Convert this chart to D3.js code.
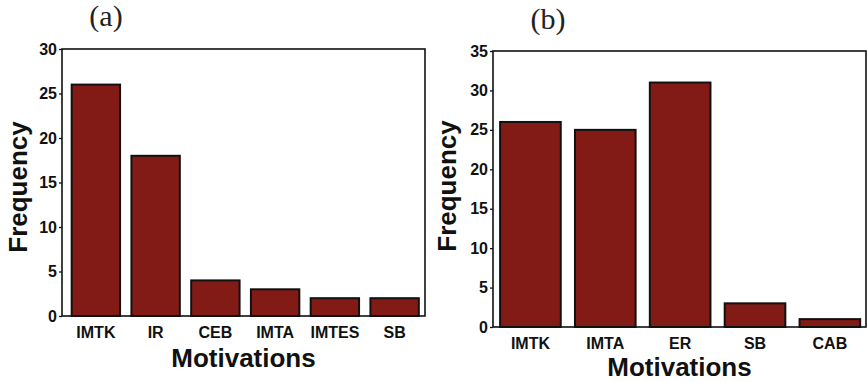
<!DOCTYPE html>
<html>
<head>
<meta charset="utf-8">
<script src="https://cdn.jsdelivr.net/npm/d3@7"></script>
<style>
  body { margin: 0; background: #fff; }
  svg { display: block; }
</style>
</head>
<body>
<div id="chart"></div>
<script>
// panel (a)
var catsA = ["IMTK", "IR", "CEB", "IMTA", "IMTES", "SB"];
var valsA = [26, 18, 4, 3, 2, 2];
var ticksA = [0, 5, 10, 15, 20, 25, 30];

// panel (b)
var catsB = ["IMTK", "IMTA", "ER", "SB", "CAB"];
var valsB = [26, 25, 31, 3, 1];
var ticksB = [0, 5, 10, 15, 20, 25, 30, 35];

var barColor = "#821b16";

var svg = d3.select("#chart")
    .append("svg")
    .attr("width", 867)
    .attr("height", 382);

svg.append("rect")
    .attr("width", 867)
    .attr("height", 382)
    .attr("fill", "#fff");

/**
 * Draws one framed bar panel
 */
function drawPanel(p) {
    var g = svg.append("g");

    var x = d3.scaleBand()
        .domain(p.cats)
        .range(p.band)
        .paddingInner(0.19)
        .paddingOuter(0.095);

    var y = d3.scaleLinear()
        .domain([0, d3.max(p.ticks)])
        .range([p.bottom, p.top]);

    // bars
    g.selectAll("rect.bar")
        .data(p.vals)
        .enter()
        .append("rect")
        .attr("class", "bar")
        .attr("x", function (d, i) { return x(p.cats[i]); })
        .attr("y", function (d) { return y(d); })
        .attr("width", x.bandwidth())
        .attr("height", function (d) { return y(0) - y(d); })
        .attr("fill", barColor)
        .attr("stroke", "#111")
        .attr("stroke-width", 2);

    // frame
    g.append("rect")
        .attr("x", p.left)
        .attr("y", p.top)
        .attr("width", p.right - p.left)
        .attr("height", p.bottom - p.top)
        .attr("fill", "none")
        .attr("stroke", "#111")
        .attr("stroke-width", 1.6);

    // y axis
    var ya = g.append("g")
        .attr("transform", "translate(" + p.left + ",0)")
        .call(d3.axisLeft(y).tickValues(p.ticks).tickSize(3).tickSizeOuter(0).tickPadding(2));
    ya.select(".domain").remove();
    ya.selectAll("line").attr("stroke", "#111").attr("stroke-width", 1.3);
    ya.selectAll("text")
        .style("font-family", "'Liberation Sans', Arial, sans-serif")
        .style("font-weight", "bold")
        .style("font-size", "16px")
        .attr("fill", "#111");

    // x axis
    var xa = g.append("g")
        .attr("transform", "translate(0," + p.bottom + ")")
        .call(d3.axisBottom(x).tickSize(0).tickPadding(11));
    xa.select(".domain").remove();
    xa.selectAll("text")
        .style("font-family", "'Liberation Sans', Arial, sans-serif")
        .style("font-weight", "bold")
        .style("font-size", "16px")
        .attr("fill", "#111");

    // axis titles
    g.append("text")
        .attr("x", (p.left + p.right) / 2)
        .attr("y", p.xTitleY)
        .style("text-anchor", "middle")
        .style("font-family", "'Liberation Sans', Arial, sans-serif")
        .style("font-weight", "bold")
        .style("font-size", "26px")
        .attr("fill", "#111")
        .text("Motivations");

    g.append("text")
        .attr("transform", "translate(" + p.yTitleX + "," + p.yTitleY + ") rotate(-90)")
        .style("text-anchor", "middle")
        .style("font-family", "'Liberation Sans', Arial, sans-serif")
        .style("font-weight", "bold")
        .style("font-size", "26px")
        .attr("fill", "#111")
        .text("Frequency");

    // panel letter
    g.append("text")
        .attr("x", p.labelX)
        .attr("y", p.labelY)
        .style("text-anchor", "middle")
        .style("font-family", "'Liberation Serif', 'DejaVu Serif', serif")
        .style("font-size", "30px")
        .attr("fill", "#222")
        .text(p.label);
}

drawPanel({
    cats: catsA, vals: valsA, ticks: ticksA,
    left: 62, right: 425, top: 49, bottom: 316,
    band: [66, 424.5],
    xTitleY: 367, yTitleX: 27, yTitleY: 187,
    label: "(a)", labelX: 106, labelY: 26
});

drawPanel({
    cats: catsB, vals: valsB, ticks: ticksB,
    left: 493, right: 866, top: 51, bottom: 327,
    band: [493, 867.3],
    xTitleY: 376, yTitleX: 456, yTitleY: 186,
    label: "(b)", labelX: 548, labelY: 29
});
</script>
</body>
</html>
